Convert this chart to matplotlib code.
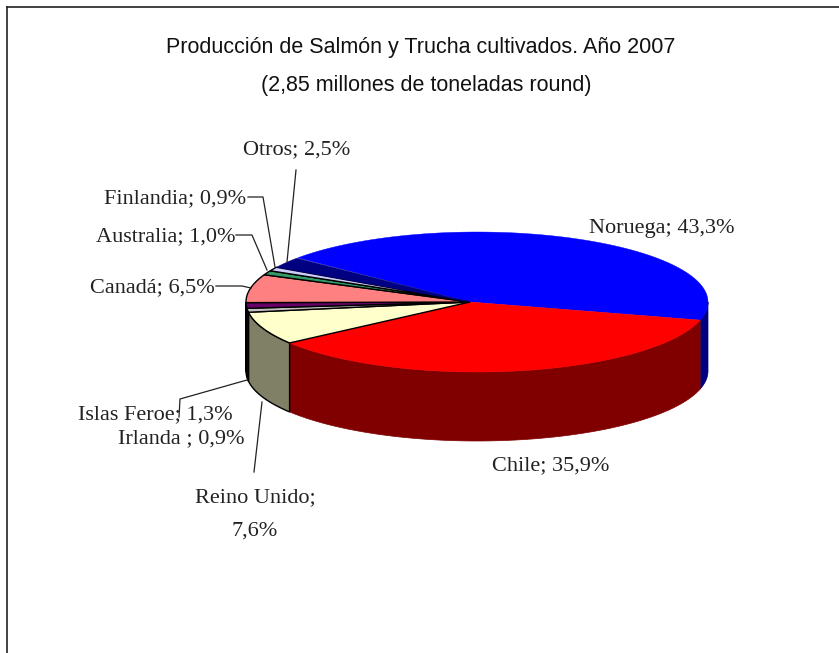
import matplotlib
matplotlib.use('Agg')
from matplotlib import pyplot as plt
import numpy as np

# Values, in clockwise order
countries = ['Noruega', 'Chile', 'Reino Unido', 'Irlanda', 'Islas Feroe', 'Canadá', 'Australia', 'Finlandia', 'Otros']
shares = [43.3, 35.9, 7.6, 0.9, 1.3, 6.5, 1.0, 0.9, 2.5]
top_colors = ['#0000FF', '#FF0000', '#FFFFCC', '#C0C0C0', '#660066', '#FF8080', '#339966', '#CCCCFF', '#000080']
side_colors = ['#000080', '#800000', '#808066', '#808066', '#330033', '#804040', '#1A4D33', '#666680', '#000040']
outlined = [False, False, True, True, True, True, True, True, False]

# Pie geometry in pixels
CX, CY = 477, 302
APEX_X = 470
RX, RY = 231, 70
DEPTH = 69
START = 140.9

fig = plt.figure(figsize=(8.39, 6.53), dpi=100)
ax = fig.add_axes([0, 0, 1, 1])
ax.set_xlim(0, 839)
ax.set_ylim(653, 0)
ax.axis('off')


def arc(a1, a2, drop=0):
    t = np.radians(np.linspace(a1, a2, 80))
    return CX + RX * np.cos(t), CY + drop - RY * np.sin(t)


# Walls first, then the top of the pie
angle = START
edges = []
for share in shares:
    sweep = share * 3.6
    edges.append((angle, angle - sweep))
    angle -= sweep

for (a1, a2), side, line in zip(edges, side_colors, outlined):
    hi, lo = min(a1, 0), max(a2, -180)
    if hi <= lo:
        continue
    x1, y1 = arc(hi, lo)
    x2, y2 = arc(lo, hi, DEPTH)
    ax.fill(np.r_[x1, x2], np.r_[y1, y2], facecolor=side, edgecolor='black' if line else side,
            linewidth=1.0 if line else 0.5, zorder=2)

for (a1, a2), top, line in zip(edges, top_colors, outlined):
    x, y = arc(a1, a2)
    ax.fill(np.r_[APEX_X, x], np.r_[CY, y], facecolor=top, edgecolor='black' if line else top,
            linewidth=1.0 if line else 0.3, zorder=3)

# Chart frame, only top and left are visible
ax.plot([7, 7], [653, 7], color='#222222', lw=1.2, zorder=1)
ax.plot([7, 839], [7, 7], color='#222222', lw=1.2, zorder=1)

# Title
ax.text(421, 47, 'Producción de Salmón y Trucha cultivados. Año 2007', family='Liberation Sans',
        fontsize=15.5, ha='center', va='center', color='#111111')
ax.text(426, 85, '(2,85 millones de toneladas round)', family='Liberation Sans',
        fontsize=15.5, ha='center', va='center', color='#111111')

# Data labels
def pct(share):
    return f'{share:.1f}'.replace('.', ',') + '%'


label_pos = {
    'Noruega': (662, 229),
    'Chile': (551, 466),
    'Islas Feroe': (155, 415),
    'Irlanda': (181, 439),
    'Canadá': (152, 288),
    'Australia': (166, 237),
    'Finlandia': (175, 199),
    'Otros': (297, 150),
}
for name, share in zip(countries, shares):
    if name in label_pos:
        sep = ' ; ' if name == 'Irlanda' else '; '
        x, y = label_pos[name]
        ax.text(x, y, name + sep + pct(share), family='Liberation Serif', fontsize=16,
                ha='center', va='center', color='#222222', zorder=5)
ax.text(255, 498, 'Reino Unido;', family='Liberation Serif', fontsize=16, ha='center', va='center', color='#222222')
ax.text(255, 531, pct(shares[2]), family='Liberation Serif', fontsize=16, ha='center', va='center', color='#222222')

# Leader lines
leaders = [
    ([296, 287], [170, 262]),
    ([248, 263, 275], [197, 197, 267]),
    ([236, 252, 267], [235, 235, 270]),
    ([216, 242, 251], [286, 286, 288]),
    ([247, 180, 179], [380, 399, 417]),
    ([262, 254], [402, 472]),
]
for lx, ly in leaders:
    ax.plot(lx, ly, color='#222222', lw=0.9, zorder=4)

fig.savefig('out.png', dpi=100)
